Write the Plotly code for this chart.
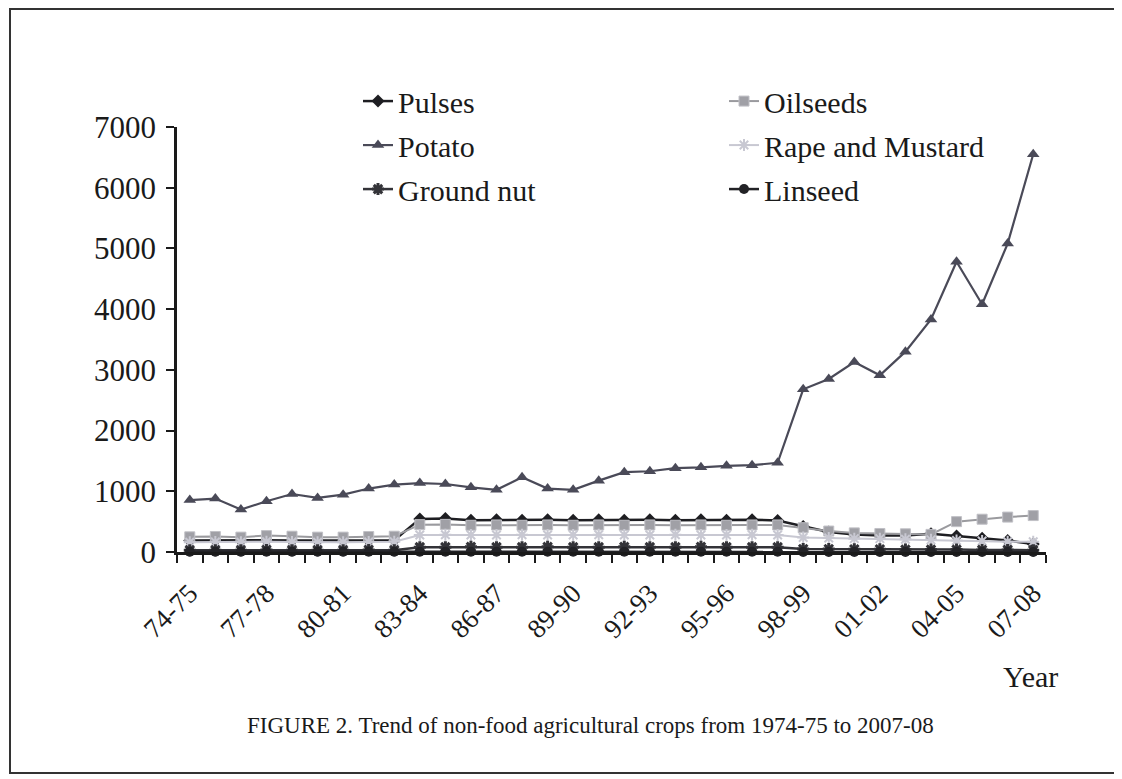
import plotly.graph_objects as go

years = ["74-75", "75-76", "76-77", "77-78", "78-79", "79-80", "80-81", "81-82",
         "82-83", "83-84", "84-85", "85-86", "86-87", "87-88", "88-89", "89-90",
         "90-91", "91-92", "92-93", "93-94", "94-95", "95-96", "96-97", "97-98",
         "98-99", "99-00", "00-01", "01-02", "02-03", "03-04", "04-05", "05-06",
         "06-07", "07-08"]

pulses = [190, 195, 190, 195, 190, 190, 195, 190, 195, 545, 550, 525, 530, 525, 530, 525,
          530, 525, 530, 525, 530, 525, 530, 520, 420, 330, 290, 270, 270, 300,
          265, 225, 190, 130]
oilseeds = [250, 255, 245, 270, 260, 245, 245, 255, 260, 450, 455, 440, 445, 440, 445, 440,
            445, 440, 445, 440, 445, 440, 445, 445, 400, 345, 315, 305, 300, 290,
            500, 540, 575, 600]
potato = [855, 880, 700, 835, 955, 890, 945, 1045, 1110, 1135, 1120, 1065, 1025, 1230,
          1045, 1025, 1175, 1315, 1330, 1380, 1395, 1420, 1430, 1470, 2680, 2850,
          3130, 2910, 3300, 3830, 4780, 4080, 5080, 6550]
rape_mustard = [160, 165, 160, 170, 165, 160, 160, 165, 170, 280, 285, 280, 280, 285, 280,
                280, 285, 280, 280, 285, 280, 280, 285, 280, 240, 230, 220, 220, 210,
                200, 190, 180, 170, 170]
ground_nut = [30, 30, 30, 35, 30, 30, 30, 35, 30, 80, 80, 85, 80, 80, 85, 80, 80, 85, 80,
              80, 85, 80, 80, 80, 50, 50, 45, 45, 40, 40, 40, 35, 35, 30]
linseed = [5, 5, 5, 5, 5, 5, 5, 5, 5, 5, 5, 5, 5, 5, 5, 5, 5, 5, 5, 5, 5, 5, 5, 5, 0, 0,
           0, 0, 0, 0, 0, 0, 0, 0]

y_ticks = [0, 1000, 2000, 3000, 4000, 5000, 6000, 7000]
x_labels = [y if i % 3 == 0 else "" for i, y in enumerate(years)]

FONT = "Liberation Serif, Times New Roman, serif"

W, H = 1114, 771
L, R, T, B = 169, 76, 119, 227
PW, PH = W - L - R, H - T - B


def px_x(x):
    return (x - L) / PW


def px_y(y):
    return (H - B - y) / PH


series = [
    ("Pulses", pulses, "#1e1e22", dict(symbol="diamond", size=10, color="#1e1e22"), 2.5, "legend"),
    ("Oilseeds", oilseeds, "#9a9a9e", dict(symbol="square", size=10, color="#a0a0a6",
                                            line=dict(color="#c0c0c6", width=1)), 2.0, "legend2"),
    ("Potato", potato, "#4a4a58", dict(symbol="triangle-up", size=11, color="#4a4a58"), 2.2, "legend"),
    ("Rape and Mustard", rape_mustard, "#c8c8d2", dict(symbol="asterisk-open", size=10,
                                                       line=dict(color="#c0c0cc", width=2)), 2.0, "legend2"),
    ("Ground nut", ground_nut, "#333338", dict(symbol="asterisk-open", size=10,
                                               line=dict(color="#333338", width=3)), 2.5, "legend"),
    ("Linseed", linseed, "#222226", dict(symbol="circle", size=10, color="#222226"), 2.5, "legend2"),
]

fig = go.Figure()
for name, vals, col, mk, lw, lg in series:
    fig.add_trace(go.Scatter(
        x=years, y=vals, name=name, mode="lines+markers",
        line=dict(color=col, width=lw), marker=mk, cliponaxis=False,
        legend=lg, legendgroup=name,
    ))

fig.update_layout(
    width=W, height=H, autosize=False,
    margin=dict(l=L, r=R, t=T, b=B, autoexpand=False),
    paper_bgcolor="white", plot_bgcolor="white",
    font=dict(family=FONT, color="#1a1a1a", size=26),
    legend=dict(x=350 / W, y=0.913, xref="container", yref="container",
                xanchor="left", yanchor="top", font=dict(size=30, family=FONT),
                tracegroupgap=2, bgcolor="rgba(0,0,0,0)"),
    legend2=dict(x=716 / W, y=0.913, xref="container", yref="container",
                 xanchor="left", yanchor="top", font=dict(size=30, family=FONT),
                 tracegroupgap=2, bgcolor="rgba(0,0,0,0)"),
    xaxis=dict(type="category", range=[-0.5, len(years) - 0.5], tickmode="array",
               tickvals=years, ticktext=x_labels,
               tickson="boundaries", ticks="outside", ticklen=8, tickwidth=2,
               tickcolor="#1a1a1a", tickangle=-45, ticklabelstandoff=12,
               showline=True, linecolor="#1a1a1a", linewidth=2.5, showgrid=False,
               zeroline=False, tickfont=dict(size=27, family=FONT), automargin=False),
    yaxis=dict(range=[0, 7000], tickmode="array", tickvals=y_ticks, ticks="outside",
               ticklen=8, tickwidth=2, tickcolor="#1a1a1a", showline=True,
               linecolor="#1a1a1a", linewidth=2.5, showgrid=False, zeroline=False,
               tickfont=dict(size=31, family=FONT), ticklabelstandoff=4, automargin=False),
    annotations=[
        dict(text="Year", xref="paper", yref="paper", x=px_x(1052), y=px_y(668),
             xanchor="right", yanchor="middle", showarrow=False,
             font=dict(size=30, family=FONT)),
        dict(text="FIGURE 2. Trend of non-food agricultural crops from 1974-75 to 2007-08",
             xref="paper", yref="paper", x=px_x(582), y=px_y(717),
             xanchor="center", yanchor="middle", showarrow=False,
             font=dict(size=23, family=FONT)),
    ],
    shapes=[
        dict(type="rect", xref="paper", yref="paper",
             x0=px_x(2), x1=px_x(1107), y0=px_y(765), y1=px_y(1),
             line=dict(color="#333333", width=2), layer="below"),
    ],
)

fig.write_html("out.html")
